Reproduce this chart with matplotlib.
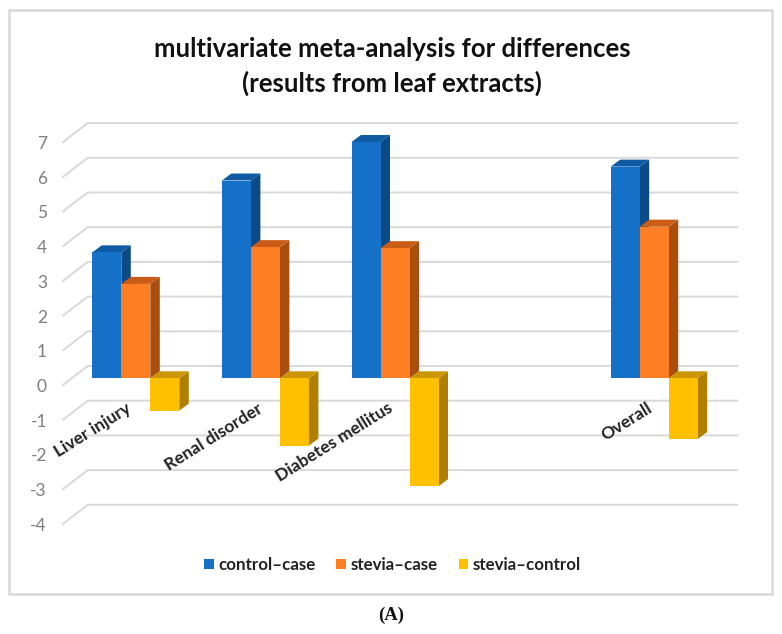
import numpy as np
import matplotlib
matplotlib.use("Agg")
import matplotlib.pyplot as plt
from matplotlib.patches import Polygon, Rectangle

categories = ["Liver injury", "Renal disorder", "Diabetes mellitus", "", "Overall"]
control_case = [3.63, 5.70, 6.81, 0, 6.10]
stevia_case = [2.72, 3.78, 3.75, 0, 4.37]
stevia_control = [-0.93, -1.94, -3.11, 0, -1.75]
series_names = ["control\u2013case", "stevia\u2013case", "stevia\u2013control"]
y_ticks = list(range(-4, 8))

W, H = 782, 634
plt.rcParams['font.family'] = ['Lato', 'DejaVu Sans']

fig = plt.figure(figsize=(W / 100, H / 100), dpi=100, facecolor="white")
ax = fig.add_axes([0, 0, 1, 1])
ax.axis("off")

# pixels per category / per unit, axes fills the whole figure
px_x = 129.6
px_y = 34.7
x0 = 135.8
y0 = 378.3
ax.set_xlim(-x0 / px_x, (W - x0) / px_x)
ax.set_ylim((y0 - H) / px_y, y0 / px_y)

bar_w = 29 / px_x
dx = 9.5 / px_x   # bar depth
dy = 7 / px_y

# chart border
fig.add_artist(Rectangle((9 / W, 1 - 593.5 / H), 763 / W, 583.5 / H, transform=fig.transFigure,
                         fill=False, ec="#d9d9d9", lw=1.8))

# back wall and side wall gridlines
grid_left = (87.7 - x0) / px_x
grid_right = (737.3 - x0) / px_x
wall_left = (63 - x0) / px_x
back_up = 12.3 / px_y
front_down = 6.7 / px_y
for v in y_ticks:
    ax.plot([wall_left, grid_left, grid_right],
            [v - front_down, v + back_up, v + back_up],
            color="#d9d9d9", lw=1.4, zorder=1)
    ax.text((47 - x0) / px_x, v - front_down - 2 / px_y, str(v), ha="right", va="center",
            fontsize=12.5, color="#7f7f7f")

colors = [("#1570c8", "#0f5ba3", "#0b4a87"),
          ("#fe7f23", "#cb5c15", "#aa4e10"),
          ("#ffc000", "#cc9600", "#b07f00")]
all_values = [control_case, stevia_case, stevia_control]
x = np.arange(len(categories))
handles = []

for k, vals in enumerate(all_values):
    front, top, side = colors[k]
    left = x - 1.5 * bar_w + k * bar_w
    z = 2 + k
    for xl, v in zip(left, vals):
        if v == 0:
            continue
        xr = xl + bar_w
        hi = max(v, 0)
        lo = min(v, 0)
        ax.add_patch(Polygon([(xr, lo), (xr + dx, lo + dy), (xr + dx, hi + dy), (xr, hi)],
                             fc=side, ec="none", zorder=z))
        ax.add_patch(Polygon([(xl, hi), (xl + dx, hi + dy), (xr + dx, hi + dy), (xr, hi)],
                             fc=top, ec="none", zorder=z))
    bars = ax.bar(left, vals, width=bar_w, align="edge", color=front, zorder=z + 0.5,
                  label=series_names[k])
    handles.append(bars)

# rotated category labels, right end just under the axis
label_ends = [(130, 407), (261, 407), (391, 407), None, (651, 407)]
for name, pos, xi in zip(categories, label_ends, x):
    if pos is None:
        continue
    ax.text((pos[0] - x0) / px_x, (y0 - pos[1]) / px_y, name, rotation=32,
            rotation_mode="anchor", ha="right", va="center",
            fontsize=12.5, fontweight="bold", color="#222222", zorder=8)

fig.text(392 / W, 1 - 66.5 / H, "multivariate meta-analysis for differences\n(results from leaf extracts)",
         ha="center", va="center", fontsize=18.5, fontweight="bold", color="#111111", linespacing=1.45)

fig.legend(handles=handles, loc="center", bbox_to_anchor=(392.5 / W, 1 - 565 / H), ncol=3, frameon=False,
           prop={"size": 12.2, "weight": "bold"}, labelcolor="#222222", handlelength=0.57, handleheight=0.57,
           handletextpad=0.25, columnspacing=1.25)

fig.text(391 / W, 1 - 615 / H, "(A)", ha="center", va="center", fontsize=13.5,
         fontweight="bold", family=["Liberation Serif"], color="#111111")

fig.savefig("out.png", dpi=100)
